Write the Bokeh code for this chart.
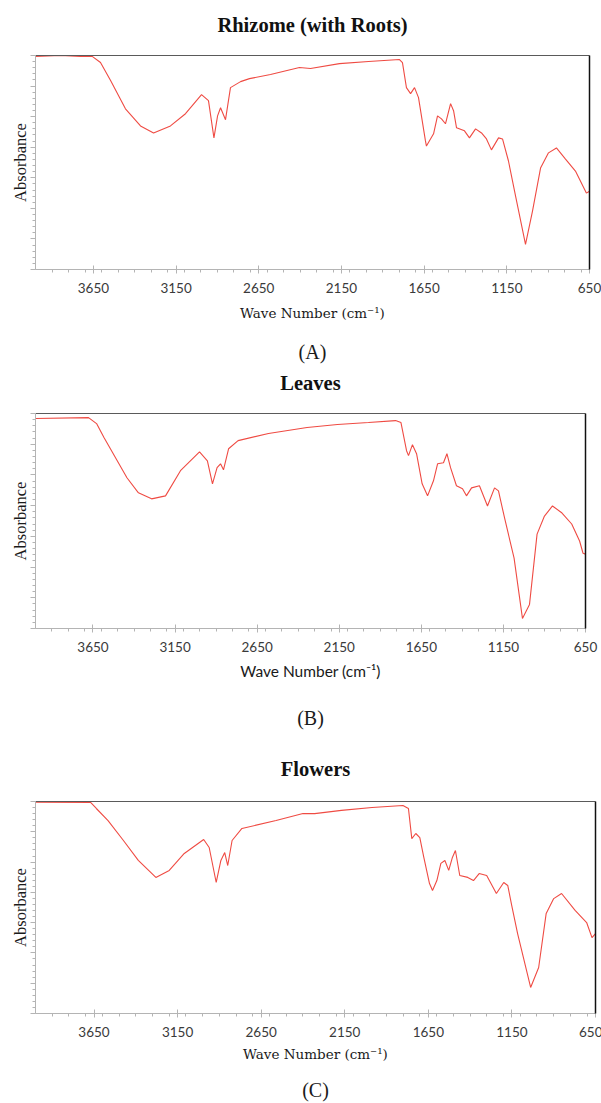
from bokeh.plotting import figure
from bokeh.layouts import column
from bokeh.models import Range1d, FixedTicker, Title, CustomJSTickFormatter, LinearAxis
from bokeh.embed import file_html
from bokeh.resources import INLINE

# ---------------- data ----------------
wn_rhizome = [4000, 3849, 3728, 3655, 3607, 3546, 3456, 3365, 3286, 3184, 3093, 2996, 2954, 2921, 2899,
              2881, 2851, 2821, 2760, 2706, 2579, 2404, 2337, 2162, 1986, 1799, 1781, 1757, 1732, 1708,
              1684, 1642, 1636, 1593, 1569, 1545, 1521, 1490, 1472, 1454, 1406, 1376, 1339, 1303, 1273,
              1243, 1200, 1176, 1140, 1097, 1037, 995, 946, 898, 850, 795, 735, 669, 650]
ab_rhizome = [99.5, 100, 99.5, 99.5, 96.7, 88.3, 75.1, 67.1, 63.8, 67.1, 72.8, 81.7, 78.9, 61.5, 71.8,
              75.6, 70.0, 85.0, 87.8, 89.2, 91.1, 94.4, 93.9, 96.2, 97.2, 98.1, 96.7, 85.0, 82.2, 85.0,
              80.3, 60.1, 57.7, 63.4, 71.8, 70.4, 68.1, 77.5, 74.2, 66.2, 64.8, 61.5, 65.7, 63.8, 61.0,
              55.9, 61.5, 61.0, 50.7, 34.3, 11.7, 27.2, 47.4, 54.5, 56.8, 51.6, 46.0, 35.7, 36.6]

wn_leaves = [4000, 3677, 3628, 3583, 3443, 3373, 3293, 3208, 3117, 3001, 2953, 2922, 2894, 2873, 2855,
             2824, 2766, 2581, 2346, 2161, 1972, 1807, 1774, 1740, 1728, 1704, 1679, 1645, 1612, 1576,
             1551, 1515, 1494, 1472, 1436, 1399, 1375, 1344, 1296, 1247, 1204, 1180, 1143, 1085, 1034,
             991, 945, 900, 851, 793, 734, 686, 665, 650]
ab_leaves = [97.7, 98.1, 95.3, 88.8, 70.1, 63.1, 60.3, 61.7, 73.4, 82.2, 78.0, 67.3, 74.8, 76.6, 73.8,
             83.6, 87.4, 90.7, 93.5, 94.9, 95.8, 96.7, 95.8, 82.7, 80.4, 85.5, 81.3, 67.3, 61.7, 68.7,
             76.6, 77.1, 81.3, 74.8, 66.4, 65.0, 61.7, 65.4, 66.4, 57.0, 65.4, 64.0, 51.4, 32.7, 4.7,
             11.2, 43.9, 52.3, 57.0, 53.7, 48.6, 40.7, 35.0, 34.6]

wn_flowers = [4000, 3669, 3636, 3566, 3474, 3385, 3280, 3200, 3110, 2994, 2961, 2919, 2891, 2868, 2850,
              2824, 2765, 2561, 2400, 2330, 2170, 1987, 1802, 1769, 1749, 1725, 1701, 1677, 1643, 1625,
              1599, 1575, 1551, 1528, 1506, 1488, 1462, 1414, 1380, 1346, 1301, 1243, 1199, 1175, 1151,
              1116, 1038, 990, 945, 900, 853, 772, 703, 671, 650]
ab_flowers = [99.7, 99.5, 96.7, 91.0, 81.6, 72.2, 64.2, 67.5, 75.5, 82.1, 78.3, 61.8, 72.2, 75.9, 69.8,
              81.6, 87.3, 91.0, 94.3, 94.3, 95.8, 97.2, 98.1, 96.7, 82.5, 84.9, 83.0, 73.6, 61.3, 58.0,
              62.7, 70.8, 72.2, 67.5, 73.6, 76.9, 65.1, 64.2, 62.7, 66.0, 65.1, 56.6, 61.8, 60.4, 50.9,
              37.7, 12.3, 21.7, 47.2, 54.2, 56.6, 48.6, 42.9, 35.8, 37.7]

x_ticks = [3650, 3150, 2650, 2150, 1650, 1150, 650]
x_minor = [w for w in range(700, 4000, 100) if w not in x_ticks]
y_label = "Absorbance"
x_label = "Wave Number (cm\u207b\u00b9)"

# layout / style settings per panel (pixels)
panels = [
    dict(title="Rhizome (with Roots)", sub="(A)", wn=wn_rhizome, ab=ab_rhizome,
         left=35, fw=554, right=12, top=55, fh=214, bottom=99,
         top_gap=20, lab_stand=9, ax_stand=9, sub_gap=15,
         xfont="DejaVu Serif", xsize="13.5px"),
    dict(title="Leaves", sub="(B)", wn=wn_leaves, ab=ab_leaves,
         left=35, fw=550, right=16, top=45, fh=215, bottom=122,
         top_gap=20, lab_stand=9, ax_stand=7, sub_gap=22,
         xfont="Lato", xsize="15.5px"),
    dict(title="Flowers", sub="(C)", wn=wn_flowers, ab=ab_flowers,
         left=27, fw=560, right=14, top=51, fh=212, bottom=90,
         top_gap=22, lab_stand=9, ax_stand=6, sub_gap=12,
         xfont="DejaVu Serif", xsize="13.5px"),
]

LINE = "#ef4b43"
AXIS = "#b4b4b4"
TICKTXT = "#3a3a3a"


def blank_axis(size, color, width=1):
    # an axis without visible ticks or labels: draws a border line and/or reserves space
    return LinearAxis(ticker=FixedTicker(ticks=[2000], minor_ticks=[]),
                      formatter=CustomJSTickFormatter(code="return ''"),
                      major_tick_out=size, major_tick_in=0, minor_tick_out=0, minor_tick_in=0,
                      major_tick_line_color=None, minor_tick_line_color=None,
                      major_label_standoff=0, major_label_text_font_size="0px",
                      axis_line_color=color, axis_line_width=width)


def make_panel(c):
    p = figure(frame_width=c["fw"], frame_height=c["fh"],
               min_border_left=c["left"], min_border_right=c["right"],
               min_border_top=c["top"], min_border_bottom=c["bottom"],
               x_range=Range1d(4000, 650), y_range=Range1d(0, 100),
               output_backend="svg", toolbar_location=None, title=c["title"])
    p.background_fill_color = "white"
    p.border_fill_color = "white"
    p.outline_line_color = None
    p.grid.visible = False

    xa = p.below[0]
    ya = p.left[0]

    p.title.align = "center"
    p.title.text_font = "Liberation Serif"
    p.title.text_font_size = "20.5px"
    p.title.text_font_style = "bold"
    p.title.text_color = "#111111"
    p.title.standoff = 0

    p.line(c["wn"], c["ab"], line_color=LINE, line_width=1.1)

    xa.ticker = FixedTicker(ticks=x_ticks, minor_ticks=x_minor)
    xa.major_label_text_font = "Lato"
    xa.major_label_text_font_size = "13.5px"
    xa.major_label_text_color = TICKTXT
    xa.major_label_standoff = c["lab_stand"]
    xa.axis_line_color = AXIS
    xa.major_tick_line_color = AXIS
    xa.minor_tick_line_color = AXIS
    xa.major_tick_in = 4
    xa.major_tick_out = 4
    xa.minor_tick_in = 0
    xa.minor_tick_out = 3
    xa.axis_label = x_label
    xa.axis_label_text_font = c["xfont"]
    xa.axis_label_text_font_size = c["xsize"]
    xa.axis_label_text_font_style = "normal"
    xa.axis_label_text_color = "#1a1a1a"
    xa.axis_label_standoff = c["ax_stand"]

    ya.ticker = FixedTicker(ticks=[100 * i / 7 for i in range(8)],
                            minor_ticks=[100 * i / 35 for i in range(36)])
    ya.formatter = CustomJSTickFormatter(code="return ''")
    ya.major_label_standoff = 0
    ya.axis_line_color = AXIS
    ya.major_tick_line_color = AXIS
    ya.minor_tick_line_color = AXIS
    ya.major_tick_in = 0
    ya.major_tick_out = 5
    ya.minor_tick_in = 0
    ya.minor_tick_out = 3
    ya.axis_label = y_label
    ya.axis_label_text_font = "Liberation Serif"
    ya.axis_label_text_font_size = "16.5px"
    ya.axis_label_text_font_style = "normal"
    ya.axis_label_text_color = "#1a1a1a"
    ya.axis_label_standoff = 1

    # frame top border (also spaces the title) and right border
    p.add_layout(blank_axis(c["top_gap"], "#5a5a5a"), "above")
    p.add_layout(blank_axis(0, "#111111", 1.5), "right")

    # gap between axis label and the panel letter, then the letter
    p.add_layout(blank_axis(c["sub_gap"], None), "below")
    p.add_layout(Title(text=c["sub"], align="center", text_font="Liberation Serif",
                       text_font_size="20px", text_font_style="normal", text_color="#1a1a1a",
                       standoff=0), "below")
    return p


figs = [make_panel(c) for c in panels]
layout = column(*figs, spacing=0)
open("out.html", "w").write(file_html(layout, INLINE))
